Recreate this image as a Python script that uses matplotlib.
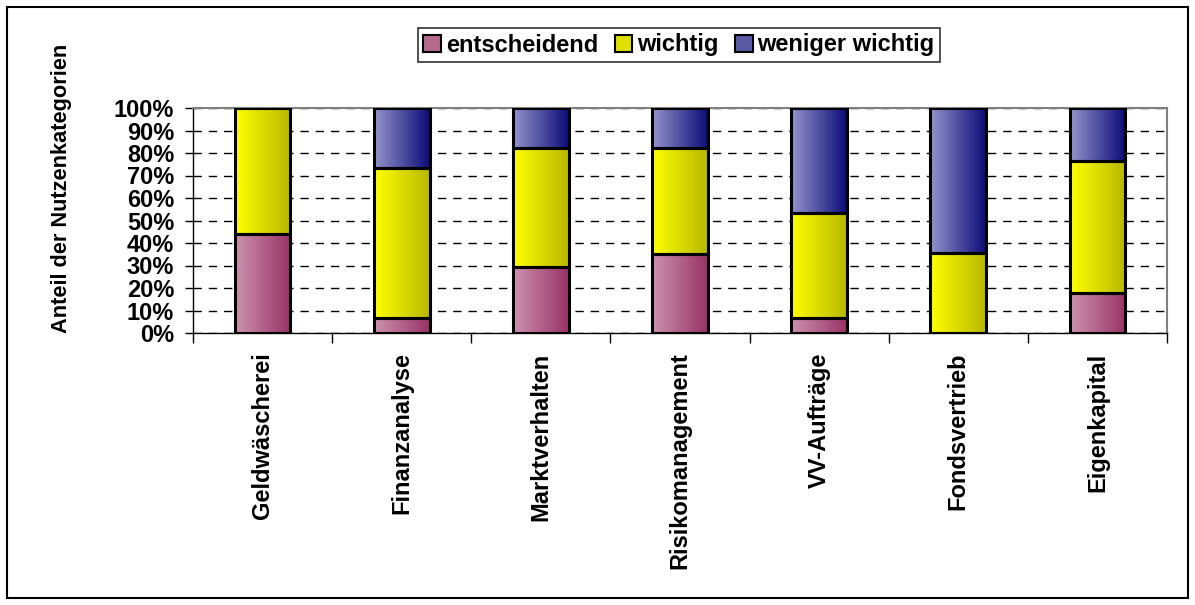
import numpy as np
import matplotlib
matplotlib.use("Agg")
import matplotlib.pyplot as plt
from matplotlib.colors import LinearSegmentedColormap
from matplotlib.patches import Patch, Rectangle

plt.rcParams['font.family'] = ['Liberation Sans', 'DejaVu Sans']
plt.rcParams['font.weight'] = 'bold'

categories = ["Geldwäscherei", "Finanzanalyse", "Marktverhalten", "Risikomanagement",
              "VV-Aufträge", "Fondsvertrieb", "Eigenkapital"]
entscheidend = [44.0, 6.7, 29.4, 35.3, 6.7, 0.0, 17.6]
wichtig = [56.0, 66.7, 52.9, 47.1, 46.7, 35.7, 58.8]
weniger_wichtig = [0.0, 26.7, 17.6, 17.6, 46.7, 64.3, 23.5]
series_names = ["entscheidend", "wichtig", "weniger wichtig"]

# gradient colours, light (left) -> dark (right)
grad = [("#CC92AE", "#993366"), ("#FFFF00", "#B8B800"), ("#9494CC", "#0C0C78")]
mid = ["#B56A8C", "#E0E000", "#5A5AA4"]

fig = plt.figure(figsize=(11.95, 6.05), dpi=100)
ax = fig.add_axes([193 / 1195, 1 - 333 / 605, (1167 - 193) / 1195, (333 - 108) / 605])

x = np.arange(len(categories))
width = 0.4
bottom = np.zeros(len(categories))
for vals, (c1, c2) in zip([entscheidend, wichtig, weniger_wichtig], grad):
    cmap = LinearSegmentedColormap.from_list("g", [c1, c2])
    bars = ax.bar(x, vals, width, bottom=bottom, color="none", edgecolor="black",
                  linewidth=2.2, zorder=3)
    for b, v in zip(bars, vals):
        if v <= 0:
            continue
        x0, y0 = b.get_x(), b.get_y()
        im = ax.imshow(np.linspace(0, 1, 100).reshape(1, -1), cmap=cmap, aspect="auto",
                       extent=[x0, x0 + b.get_width(), y0, y0 + b.get_height()], zorder=2)
        im.set_clip_path(b)
    bottom += np.array(vals)

ax.set_xlim(-0.5, len(categories) - 0.5)
ax.set_ylim(0, 100)
ax.set_yticks(np.arange(0, 101, 10))
ax.set_yticklabels([f"{v}%" for v in range(0, 101, 10)])
ax.yaxis.grid(True, linestyle=(0, (6, 5)), color="black", linewidth=1, zorder=1)
ax.set_axisbelow(True)

ax.set_xticks(x)
ax.set_xticklabels(categories, rotation=90)
ax.tick_params(axis="x", length=0, pad=14)
ax.set_xticks(np.arange(-0.5, len(categories), 1), minor=True)
ax.tick_params(axis="x", which="minor", length=7, width=1, direction="out")
ax.tick_params(axis="y", length=5.5, width=1, direction="out", pad=8)
for t in ax.get_xticklabels() + ax.get_yticklabels():
    t.set_fontsize(17)
    t.set_fontweight("bold")

for s in ["top", "right"]:
    ax.spines[s].set_color("#808080")
    ax.spines[s].set_linewidth(1.5)
for s in ["left", "bottom"]:
    ax.spines[s].set_color("black")
    ax.spines[s].set_linewidth(1)

fig.text(62 / 1195, 1 - 188 / 605, "Anteil der Nutzenkategorien", rotation=90,
         ha="center", va="center", fontsize=15.7, fontweight="bold")

handles = [Patch(facecolor=m, edgecolor="black", linewidth=1.5) for m in mid]
leg = fig.legend(handles, series_names, loc="center", bbox_to_anchor=(679 / 1195, 1 - 45 / 605),
                 ncol=3, prop={"size": 17, "weight": "bold"}, frameon=True, fancybox=False,
                 edgecolor="black", handlelength=0.75, handleheight=0.75, handletextpad=0.2,
                 columnspacing=0.7, borderpad=0.25, borderaxespad=0)
leg.get_frame().set_linewidth(1.2)

fig.patches.append(Rectangle((7 / 1195, 7 / 605), 1181 / 1195, 591 / 605, transform=fig.transFigure,
                             fill=False, edgecolor="black", linewidth=1.5))

fig.savefig("out.png", dpi=100)
